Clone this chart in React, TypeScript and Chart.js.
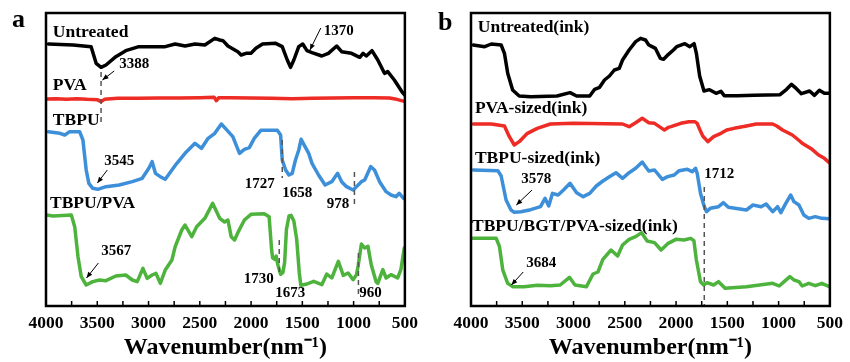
import React, { useEffect, useRef } from "react";
import { Chart, registerables } from "chart.js";

Chart.register(...registerables);

// ---------- axis ----------
const xMin = 500;
const xMax = 4000;
const xStep = 500;
const minorStep = 250;
const yMin = 0;
const yMax = 879;
const axisTitle = "Wavenumber(nm\u207B\u00B9)";

// ---------- panel a series: [wavenumber, intensity a.u.] ----------
const untreatedA: number[][] = [
  [3977, 786], [3736, 783], [3560, 778], [3511, 728], [3463, 716], [3415, 723], [3319, 748], [3222, 766],
  [3094, 778], [2965, 778], [2837, 778], [2740, 786], [2644, 780], [2547, 786], [2451, 783], [2354, 803],
  [2306, 798], [2274, 796], [2226, 780], [2129, 763], [2097, 753], [2049, 758], [2001, 758], [1953, 773],
  [1888, 786], [1760, 788], [1696, 778], [1647, 738], [1615, 716], [1583, 738], [1535, 778], [1496, 786],
  [1455, 766], [1406, 760], [1310, 750], [1246, 758], [1165, 780], [1117, 763], [1021, 758], [940, 746],
  [908, 758], [876, 750], [821, 766], [764, 738], [699, 698], [667, 703], [603, 678], [522, 640], [505, 634],
];
const pvaA: number[][] = [
  [3990, 621], [3900, 622], [3800, 620], [3700, 622], [3600, 620], [3500, 619], [3463, 613], [3430, 620],
  [3300, 623], [3100, 623], [2900, 624], [2700, 624], [2500, 625], [2360, 626], [2338, 616], [2315, 625],
  [2200, 625], [2000, 624], [1800, 623], [1600, 622], [1400, 623], [1200, 624], [1000, 625], [800, 625],
  [650, 624], [580, 620], [505, 614],
];
const tbpuA: number[][] = [
  [3977, 523], [3865, 518], [3817, 513], [3769, 523], [3672, 523], [3640, 498], [3608, 408], [3582, 368],
  [3544, 353], [3495, 350], [3415, 358], [3286, 363], [3158, 373], [3062, 383], [2997, 413], [2965, 433],
  [2933, 398], [2885, 388], [2837, 380], [2772, 408], [2724, 428], [2644, 458], [2547, 488], [2483, 473],
  [2419, 503], [2354, 518], [2290, 546], [2242, 530], [2178, 508], [2113, 458], [2065, 470], [2017, 475],
  [1969, 503], [1905, 527], [1744, 527], [1712, 513], [1696, 438], [1663, 408], [1631, 393], [1599, 398],
  [1567, 438], [1535, 468], [1512, 500], [1438, 458], [1406, 428], [1342, 393], [1278, 363], [1213, 373],
  [1156, 398], [1117, 373], [1069, 358], [1005, 348], [956, 363], [924, 373], [892, 378], [834, 418],
  [796, 408], [747, 373], [683, 343], [635, 333], [587, 328], [555, 338], [513, 323],
];
const tbpuPvaA: number[][] = [
  [3994, 273], [3930, 270], [3753, 273], [3720, 238], [3688, 148], [3656, 88], [3608, 63], [3544, 73],
  [3479, 78], [3415, 76], [3319, 90], [3222, 93], [3158, 78], [3110, 73], [3055, 113], [3013, 83],
  [2965, 93], [2927, 98], [2885, 68], [2837, 108], [2772, 138], [2740, 178], [2676, 228], [2644, 243],
  [2579, 208], [2531, 238], [2451, 263], [2375, 308], [2306, 263], [2258, 252], [2226, 258], [2194, 208],
  [2161, 198], [2129, 220], [2065, 258], [2001, 275], [1872, 277], [1824, 268], [1800, 170], [1790, 145],
  [1770, 140], [1755, 150], [1740, 125], [1712, 95], [1690, 100], [1673, 130], [1655, 230], [1630, 270],
  [1610, 272], [1583, 255], [1555, 200], [1530, 100], [1515, 62], [1455, 66], [1390, 74], [1310, 64],
  [1262, 96], [1213, 84], [1149, 134], [1101, 92], [1053, 99], [1005, 79], [972, 94], [956, 120],
  [924, 186], [892, 174], [860, 179], [828, 124], [780, 72], [764, 68], [715, 109], [683, 84],
  [635, 94], [571, 84], [539, 109], [506, 174],
];

// ---------- panel b series ----------
const untreatedB: number[][] = [
  [3978, 783], [3866, 778], [3802, 786], [3706, 783], [3674, 758], [3642, 698], [3594, 648], [3530, 630],
  [3418, 628], [3162, 630], [3034, 640], [2970, 630], [2842, 630], [2794, 650], [2746, 656], [2698, 678],
  [2650, 690], [2602, 708], [2554, 713], [2522, 738], [2458, 768], [2394, 793], [2346, 803], [2298, 798],
  [2266, 783], [2234, 778], [2202, 773], [2154, 743], [2122, 740], [2074, 755], [2026, 768], [1994, 778],
  [1914, 787], [1866, 778], [1824, 787], [1802, 758], [1770, 690], [1728, 645], [1674, 649], [1610, 638],
  [1562, 644], [1530, 631], [1402, 631], [1242, 632], [986, 634], [922, 650], [874, 665], [826, 652],
  [778, 637], [698, 645], [650, 632], [602, 647], [554, 638], [506, 638],
];
const pvaB: number[][] = [
  [3978, 546], [3802, 546], [3674, 540], [3626, 508], [3578, 483], [3530, 493], [3450, 518], [3354, 533],
  [3226, 546], [3002, 548], [2522, 546], [2458, 538], [2394, 550], [2330, 563], [2266, 550], [2210, 548],
  [2138, 533], [2114, 528], [2074, 536], [2050, 538], [1954, 548], [1874, 553], [1818, 553], [1794, 548],
  [1770, 530], [1740, 510], [1690, 493], [1634, 508], [1562, 518], [1506, 528], [1434, 533], [1314, 540],
  [1218, 546], [1058, 546], [1018, 540], [962, 528], [866, 513], [794, 495], [770, 488], [674, 470],
  [610, 453], [554, 443], [506, 430],
];
const tbpuB: number[][] = [
  [3978, 408], [3738, 406], [3706, 390], [3658, 318], [3610, 288], [3578, 281], [3514, 283], [3418, 289],
  [3322, 298], [3278, 323], [3242, 300], [3205, 338], [3150, 333], [3098, 348], [3034, 368], [2970, 340],
  [2906, 328], [2842, 338], [2778, 360], [2714, 375], [2650, 388], [2586, 400], [2522, 383], [2458, 400],
  [2394, 413], [2330, 432], [2290, 415], [2266, 405], [2210, 408], [2134, 380], [2082, 388], [2018, 393],
  [1970, 406], [1890, 410], [1842, 403], [1810, 413], [1794, 398], [1762, 338], [1730, 303], [1704, 283],
  [1666, 293], [1586, 298], [1538, 310], [1490, 296], [1314, 288], [1250, 303], [1170, 298], [1122, 306],
  [1058, 283], [1010, 298], [978, 280], [930, 308], [882, 333], [850, 313], [802, 303], [754, 273],
  [706, 263], [642, 268], [578, 263], [506, 262],
];
const tbpuBgtPvaB: number[][] = [
  [3994, 203], [3754, 203], [3722, 178], [3690, 108], [3642, 68], [3594, 58], [3482, 58], [3354, 62],
  [3226, 61], [3130, 63], [3040, 86], [2986, 63], [2874, 58], [2810, 96], [2762, 102], [2714, 140],
  [2634, 168], [2570, 150], [2522, 183], [2458, 200], [2394, 208], [2336, 220], [2282, 195], [2210, 190],
  [2146, 168], [2082, 187], [2002, 200], [1922, 198], [1858, 203], [1826, 196], [1802, 138], [1762, 73],
  [1730, 63], [1698, 70], [1634, 63], [1586, 73], [1522, 53], [1314, 58], [1186, 63], [1058, 68],
  [994, 60], [946, 73], [890, 88], [850, 78], [802, 73], [770, 60], [706, 68], [642, 61], [578, 68],
  [506, 58],
];

// ---------- annotations (data coordinates) ----------
type Label = { text: string; x: number; y: number; size: number };
type Arrow = { x1: number; y1: number; x2: number; y2: number };
type Dash = { x: number; y1: number; y2: number };

const labelsA: Label[] = [
  { text: "Untreated", x: 3933, y: 807, size: 17.5 },
  { text: "PVA", x: 3933, y: 648, size: 17.5 },
  { text: "TBPU", x: 3933, y: 543, size: 17.5 },
  { text: "TBPU/PVA", x: 3961, y: 294, size: 17.5 },
  { text: "3388", x: 3286, y: 714, size: 15 },
  { text: "1370", x: 1291, y: 813, size: 15 },
  { text: "3545", x: 3431, y: 423, size: 15 },
  { text: "1727", x: 2062, y: 354, size: 15 },
  { text: "1658", x: 1696, y: 327, size: 15 },
  { text: "978", x: 1262, y: 294, size: 15 },
  { text: "3567", x: 3460, y: 153, size: 15 },
  { text: "1730", x: 2072, y: 69, size: 15 },
  { text: "1673", x: 1763, y: 27, size: 15 },
  { text: "960", x: 944, y: 27, size: 15 },
];
const arrowsA: Arrow[] = [
  { x1: 3335, y1: 705, x2: 3450, y2: 678 },
  { x1: 1320, y1: 834, x2: 1426, y2: 768 },
  { x1: 3402, y1: 408, x2: 3499, y2: 369 },
  { x1: 3489, y1: 129, x2: 3605, y2: 84 },
];
const dashesA: Dash[] = [
  { x: 3463, y1: 702, y2: 549 },
  { x: 1696, y1: 498, y2: 384 },
  { x: 992, y1: 402, y2: 294 },
  { x: 1725, y1: 198, y2: 99 },
  { x: 953, y1: 159, y2: 27 },
];

const labelsB: Label[] = [
  { text: "Untreated(ink)", x: 3933, y: 822, size: 17.5 },
  { text: "PVA-sized(ink)", x: 3962, y: 579, size: 17.5 },
  { text: "TBPU-sized(ink)", x: 3962, y: 429, size: 17.5 },
  { text: "TBPU/BGT/PVA-sized(ink)", x: 3990, y: 225, size: 17.5 },
  { text: "3578", x: 3510, y: 369, size: 15 },
  { text: "1712", x: 1725, y: 384, size: 15 },
  { text: "3684", x: 3462, y: 117, size: 15 },
];
const arrowsB: Arrow[] = [
  { x1: 3405, y1: 348, x2: 3558, y2: 303 },
  { x1: 3491, y1: 102, x2: 3606, y2: 63 },
];
const dashesB: Dash[] = [{ x: 1725, y1: 357, y2: 0 }];

const colors = ["#000000", "#ee2b24", "#3c8fd8", "#4db33d"];
const FONT = '"Liberation Serif", "Times New Roman", serif';

function makeChart(
  canvas: HTMLCanvasElement,
  series: number[][][],
  labels: Label[],
  arrows: Arrow[],
  dashes: Dash[],
  letter: string,
  letterPos: { dx: number; dy: number },
  padRight: number
) {
  const overlay = {
    id: "overlay",
    afterDatasetsDraw(chart: any) {
      const { ctx, chartArea: ca } = chart;
      const xs = chart.scales.x;
      const ys = chart.scales.y;
      ctx.save();
      // dashed markers
      ctx.strokeStyle = "#555555";
      ctx.lineWidth = 1.5;
      ctx.setLineDash([5, 4]);
      for (const d of dashes) {
        const px = xs.getPixelForValue(d.x);
        ctx.beginPath();
        ctx.moveTo(px, ys.getPixelForValue(d.y1));
        ctx.lineTo(px, ys.getPixelForValue(d.y2));
        ctx.stroke();
      }
      ctx.setLineDash([]);
      // arrows
      ctx.strokeStyle = "#000";
      ctx.fillStyle = "#000";
      ctx.lineWidth = 1;
      for (const a of arrows) {
        const x1 = xs.getPixelForValue(a.x1);
        const y1 = ys.getPixelForValue(a.y1);
        const x2 = xs.getPixelForValue(a.x2);
        const y2 = ys.getPixelForValue(a.y2);
        const ang = Math.atan2(y2 - y1, x2 - x1);
        ctx.beginPath();
        ctx.moveTo(x1, y1);
        ctx.lineTo(x2, y2);
        ctx.stroke();
        ctx.beginPath();
        ctx.moveTo(x2, y2);
        ctx.lineTo(x2 - 6 * Math.cos(ang) + 2.5 * Math.sin(ang), y2 - 6 * Math.sin(ang) - 2.5 * Math.cos(ang));
        ctx.lineTo(x2 - 6 * Math.cos(ang) - 2.5 * Math.sin(ang), y2 - 6 * Math.sin(ang) + 2.5 * Math.cos(ang));
        ctx.closePath();
        ctx.fill();
      }
      // labels
      ctx.textAlign = "left";
      ctx.textBaseline = "alphabetic";
      for (const l of labels) {
        ctx.font = `bold ${l.size}px ${FONT}`;
        ctx.fillText(l.text, xs.getPixelForValue(l.x), ys.getPixelForValue(l.y));
      }
      // frame
      ctx.lineWidth = 2.5;
      ctx.strokeStyle = "#000";
      ctx.strokeRect(ca.left, ca.top, ca.right - ca.left, ca.bottom - ca.top);
      // inward ticks
      ctx.lineWidth = 1.5;
      for (let v = xMin + minorStep; v < xMax; v += minorStep) {
        const px = xs.getPixelForValue(v);
        ctx.beginPath();
        ctx.moveTo(px, ca.bottom);
        ctx.lineTo(px, ca.bottom - 5);
        ctx.stroke();
      }
      // panel letter
      ctx.font = `bold 26px ${FONT}`;
      ctx.fillText(letter, ca.left + letterPos.dx, ca.top + letterPos.dy);
      ctx.restore();
    },
  };

  return new Chart(canvas, {
    type: "line",
    data: {
      datasets: series.map((s, i) => ({
        data: s.map(([x, y]) => ({ x, y })),
        borderColor: colors[i],
        borderWidth: 3.5,
        pointRadius: 0,
        tension: 0,
        fill: false,
        borderJoinStyle: "round" as const,
        borderCapStyle: "round" as const,
      })),
    },
    options: {
      animation: false,
      responsive: false,
      maintainAspectRatio: false,
      layout: { padding: { left: 46, right: padRight, top: 13, bottom: 0 } },
      plugins: { legend: { display: false }, tooltip: { enabled: false } },
      scales: {
        x: {
          type: "linear",
          min: xMin,
          max: xMax,
          reverse: true,
          afterFit: (scale: any) => {
            scale.height = 56;
          },
          grid: { display: false, drawTicks: false },
          border: { display: false },
          ticks: {
            stepSize: xStep,
            padding: 7,
            color: "#000",
            font: { family: FONT, size: 17.5, weight: "bold" },
            callback: (v: any) => String(v),
          },
          title: {
            display: true,
            text: axisTitle,
            color: "#000",
            padding: { top: 0, bottom: 0 },
            font: { family: FONT, size: 24, weight: "bold" },
          },
        },
        y: { display: false, min: yMin, max: yMax },
      },
    },
    plugins: [overlay],
  } as any);
}

function Panel(props: {
  left: number;
  series: number[][][];
  labels: Label[];
  arrows: Arrow[];
  dashes: Dash[];
  letter: string;
  letterPos: { dx: number; dy: number };
  padRight: number;
}) {
  const ref = useRef<HTMLCanvasElement | null>(null);
  useEffect(() => {
    if (!ref.current) return;
    const c = makeChart(ref.current, props.series, props.labels, props.arrows, props.dashes, props.letter, props.letterPos, props.padRight);
    return () => c.destroy();
  }, []);
  return (
    <canvas
      ref={ref}
      width={425}
      height={362}
      style={{ position: "absolute", left: props.left, top: 0, width: 425, height: 362 }}
    />
  );
}

export default function App() {
  return (
    <div style={{ position: "absolute", left: 0, top: 0, width: 850, height: 362, background: "#fff" }}>
      <Panel
        left={0}
        series={[untreatedA, pvaA, tbpuA, tbpuPvaA]}
        labels={labelsA}
        arrows={arrowsA}
        dashes={dashesA}
        letter="a"
        letterPos={{ dx: -34, dy: 14 }}
        padRight={15.7}
      />
      <Panel
        left={425}
        series={[untreatedB, pvaB, tbpuB, tbpuBgtPvaB]}
        labels={labelsB}
        arrows={arrowsB}
        dashes={dashesB}
        letter="b"
        letterPos={{ dx: -33, dy: 17 }}
        padRight={14.3}
      />
    </div>
  );
}
